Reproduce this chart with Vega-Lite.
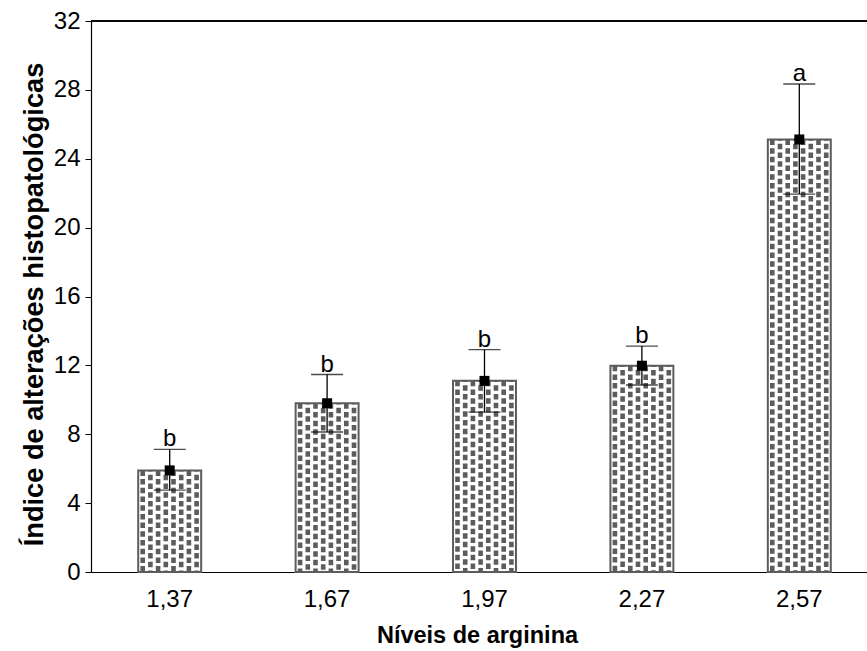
{
  "$schema": "https://vega.github.io/schema/vega-lite/v6.json",
  "autosize": {"type": "none"},
  "padding": {"left": 91, "top": 21, "right": 0, "bottom": 79},
  "width": 776,
  "height": 551,
  "background": "white",
  "config": {
    "view": {"stroke": null},
    "font": "Liberation Sans",
    "axis": {"grid": false, "domainColor": "black", "tickColor": "black", "labelColor": "black", "titleColor": "black", "labelFont": "Liberation Sans", "titleFont": "Liberation Sans"}
  },
  "data": {
    "values": [
      {"nivel": "1,37", "media": 5.9, "inf": 4.75, "sup": 7.12, "letra": "b"},
      {"nivel": "1,67", "media": 9.8, "inf": 8.13, "sup": 11.47, "letra": "b"},
      {"nivel": "1,97", "media": 11.1, "inf": 9.28, "sup": 12.92, "letra": "b"},
      {"nivel": "2,27", "media": 11.98, "inf": 10.86, "sup": 13.12, "letra": "b"},
      {"nivel": "2,57", "media": 25.12, "inf": 21.95, "sup": 28.34, "letra": "a"}
    ]
  },
  "encoding": {
    "x": {
      "field": "nivel", "type": "nominal", "sort": null,
      "scale": {"range": [0, 787], "paddingInner": 0.6, "paddingOuter": 0.3},
      "axis": {"title": "Níveis de arginina", "labelAngle": 0, "ticks": false, "labelPadding": 15, "labelFontSize": 24, "titleFontSize": 23.5, "titleFontWeight": "bold", "titlePadding": 12, "titleX": 386, "domainWidth": 1.2}
    }
  },
  "layer": [
    {
      "mark": {"type": "bar", "fill": "white", "stroke": "#5c5c5c", "strokeWidth": 2},
      "encoding": {
        "y": {"field": "media", "type": "quantitative",
          "scale": {"domain": [0, 32], "nice": false},
          "axis": {"title": "Índice de alterações histopatológicas", "values": [0, 4, 8, 12, 16, 20, 24, 28, 32], "tickSize": 6, "labelPadding": 5, "labelFontSize": 24, "titleFontSize": 27.2, "titleFontWeight": "bold", "titlePadding": 5, "titleY": 283, "domainWidth": 1.2}
        }
      }
    },
    {"mark": {"type": "rule", "color": "#5c5c5c", "strokeWidth": 4.6, "strokeDash": [5.5, 3.2], "strokeDashOffset": 0, "xOffset": -27}, "encoding": {"y": {"field": "media", "type": "quantitative"}, "y2": {"datum": 0}}},
    {"mark": {"type": "rule", "color": "#5c5c5c", "strokeWidth": 4.6, "strokeDash": [5.5, 3.2], "strokeDashOffset": 4.3, "xOffset": -19.3}, "encoding": {"y": {"field": "media", "type": "quantitative"}, "y2": {"datum": 0}}},
    {"mark": {"type": "rule", "color": "#5c5c5c", "strokeWidth": 4.6, "strokeDash": [5.5, 3.2], "strokeDashOffset": 0, "xOffset": -11.6}, "encoding": {"y": {"field": "media", "type": "quantitative"}, "y2": {"datum": 0}}},
    {"mark": {"type": "rule", "color": "#5c5c5c", "strokeWidth": 4.6, "strokeDash": [5.5, 3.2], "strokeDashOffset": 4.3, "xOffset": -3.9}, "encoding": {"y": {"field": "media", "type": "quantitative"}, "y2": {"datum": 0}}},
    {"mark": {"type": "rule", "color": "#5c5c5c", "strokeWidth": 4.6, "strokeDash": [5.5, 3.2], "strokeDashOffset": 0, "xOffset": 3.8}, "encoding": {"y": {"field": "media", "type": "quantitative"}, "y2": {"datum": 0}}},
    {"mark": {"type": "rule", "color": "#5c5c5c", "strokeWidth": 4.6, "strokeDash": [5.5, 3.2], "strokeDashOffset": 4.3, "xOffset": 11.5}, "encoding": {"y": {"field": "media", "type": "quantitative"}, "y2": {"datum": 0}}},
    {"mark": {"type": "rule", "color": "#5c5c5c", "strokeWidth": 4.6, "strokeDash": [5.5, 3.2], "strokeDashOffset": 0, "xOffset": 19.2}, "encoding": {"y": {"field": "media", "type": "quantitative"}, "y2": {"datum": 0}}},
    {"mark": {"type": "rule", "color": "#5c5c5c", "strokeWidth": 4.6, "strokeDash": [5.5, 3.2], "strokeDashOffset": 4.3, "xOffset": 26.9}, "encoding": {"y": {"field": "media", "type": "quantitative"}, "y2": {"datum": 0}}},
    {"mark": {"type": "rule", "color": "black", "strokeWidth": 1.3}, "encoding": {"y": {"field": "inf", "type": "quantitative"}, "y2": {"field": "sup"}}},
    {"mark": {"type": "tick", "color": "black", "size": 32, "thickness": 1.3}, "encoding": {"y": {"field": "sup", "type": "quantitative"}}},
    {"mark": {"type": "tick", "color": "black", "size": 32, "thickness": 1.3}, "encoding": {"y": {"field": "inf", "type": "quantitative"}}},
    {"mark": {"type": "point", "shape": "square", "filled": true, "color": "black", "size": 100, "opacity": 1}, "encoding": {"y": {"field": "media", "type": "quantitative"}}},
    {"mark": {"type": "text", "fontSize": 24, "baseline": "alphabetic", "dy": -3, "color": "black"}, "encoding": {"y": {"field": "sup", "type": "quantitative"}, "text": {"field": "letra"}}},
    {"mark": {"type": "rule", "color": "black", "strokeWidth": 1.2}, "encoding": {"x": {"value": 0}, "x2": {"value": 776}, "y": {"datum": 32}}}
  ]
}
